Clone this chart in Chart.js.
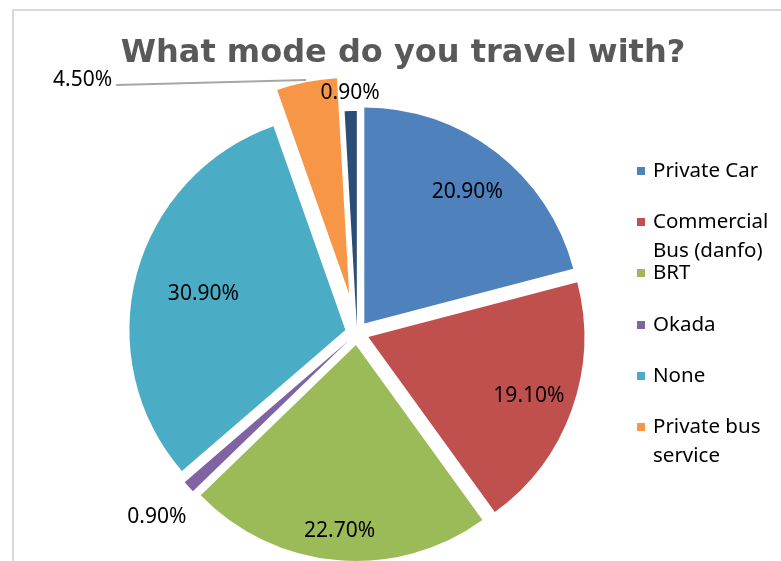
<!DOCTYPE html>
<html lang="en">
<head>
<meta charset="UTF-8">
<title>What mode do you travel with?</title>
<style>
  * {box-sizing:border-box;margin:0;padding:0;}
  body {width:781px;height:561px;overflow:hidden;background:#fff;position:relative;font-family:'Noto Sans',sans-serif;}
  .frame {position:absolute;left:12px;top:9px;width:820px;height:620px;border:2px solid #d9d9d9;}
  #modeChart {position:absolute;left:0;top:0;}
  h1 {position:absolute;left:403px;top:35px;transform:translateX(-50%);white-space:nowrap;font:bold 32px/32px 'DejaVu Sans',sans-serif;color:#595959;}
  .legend {position:absolute;left:637px;top:155px;list-style:none;}
  .legend li {position:relative;height:51.2px;padding-left:16px;width:140px;font-size:20.5px;line-height:29px;color:#000;}
  .legend li span {position:absolute;left:0;top:12px;width:8px;height:8px;}
</style>
</head>
<body>
  <div class="frame"></div>
  <canvas id="modeChart" width="781" height="561"></canvas>
  <h1>What mode do you travel with?</h1>
  <ul class="legend" id="legend"></ul>
  <script src="https://cdn.jsdelivr.net/npm/chart.js@4.4.1/dist/chart.umd.min.js"></script>
  <script>
    const categories = ['Private Car', 'Commercial Bus (danfo)', 'BRT', 'Okada', 'None', 'Private bus service', 'Other'];
    const shares = [20.9, 19.1, 22.7, 0.9, 30.9, 4.5, 0.9];
    const colors = ['#4F81BD', '#C0504D', '#9BBB59', '#8064A2', '#4BACC6', '#F79646', '#2C4D75'];
    const legendCount = 6; // the last category has no legend row

    // how far each slice is pulled out from the centre (px)
    const explode = [12, 12, 12, 12, 12, 40, 6];
    // label distance as a fraction of the radius
    const labelPos = [0.78, 0.79, 0.86, 1.2, 0.68, 1.01, 1.09];

    const legend = document.getElementById('legend');
    categories.slice(0, legendCount).forEach((name, i) => {
      const li = document.createElement('li');
      const box = document.createElement('span');
      box.style.background = colors[i];
      li.appendChild(box);
      li.appendChild(document.createTextNode(name));
      legend.appendChild(li);
    });

    function midPoint(arc, i, dist) {
      const p = arc.getProps(['x', 'y', 'startAngle', 'endAngle', 'outerRadius'], true);
      const mid = (p.startAngle + p.endAngle) / 2;
      const d = explode[i] + p.outerRadius * dist;
      return {x: p.x + Math.cos(mid) * d, y: p.y + Math.sin(mid) * d};
    }

    // draw slices pulled out along their middle angle
    const explodedSlices = {
      id: 'explodedSlices',
      beforeDatasetDraw(chart, args) {
        const ctx = chart.ctx;
        args.meta.data.forEach((arc, i) => {
          const p = arc.getProps(['startAngle', 'endAngle'], true);
          const mid = (p.startAngle + p.endAngle) / 2;
          ctx.save();
          ctx.translate(Math.cos(mid) * explode[i], Math.sin(mid) * explode[i]);
          arc.draw(ctx, chart.chartArea);
          ctx.restore();
        });
        return false;
      }
    };

    const sliceLabels = {
      id: 'sliceLabels',
      afterDatasetsDraw(chart) {
        const ctx = chart.ctx;
        const arcs = chart.getDatasetMeta(0).data;
        ctx.save();
        ctx.font = '21px "Noto Sans"';
        ctx.fillStyle = '#000';
        ctx.textBaseline = 'alphabetic';
        arcs.forEach((arc, i) => {
          const text = shares[i].toFixed(2) + '%';
          const pt = midPoint(arc, i, labelPos[i]);
          if (i === 5) {
            // leader line out to the left
            const endX = pt.x - 190, endY = pt.y + 5;
            ctx.strokeStyle = '#a6a6a6';
            ctx.lineWidth = 2;
            ctx.beginPath();
            ctx.moveTo(pt.x, pt.y);
            ctx.lineTo(endX, endY);
            ctx.stroke();
            ctx.textAlign = 'right';
            ctx.fillText(text, endX - 4, endY + 1);
          } else {
            ctx.textAlign = 'center';
            ctx.fillText(text, pt.x, pt.y + 7.5);
          }
        });
        ctx.restore();
      }
    };

    new Chart(document.getElementById('modeChart'), {
      type: 'pie',
      data: {
        labels: categories,
        datasets: [{
          data: shares,
          backgroundColor: colors,
          borderWidth: 0,
          radius: 216
        }]
      },
      options: {
        responsive: false,
        devicePixelRatio: 1,
        animation: false,
        layout: {padding: {left: 0, right: 67, top: 105, bottom: 0}},
        plugins: {
          legend: {display: false},
          title: {display: false},
          tooltip: {enabled: false}
        }
      },
      plugins: [explodedSlices, sliceLabels]
    });
  </script>
</body>
</html>
